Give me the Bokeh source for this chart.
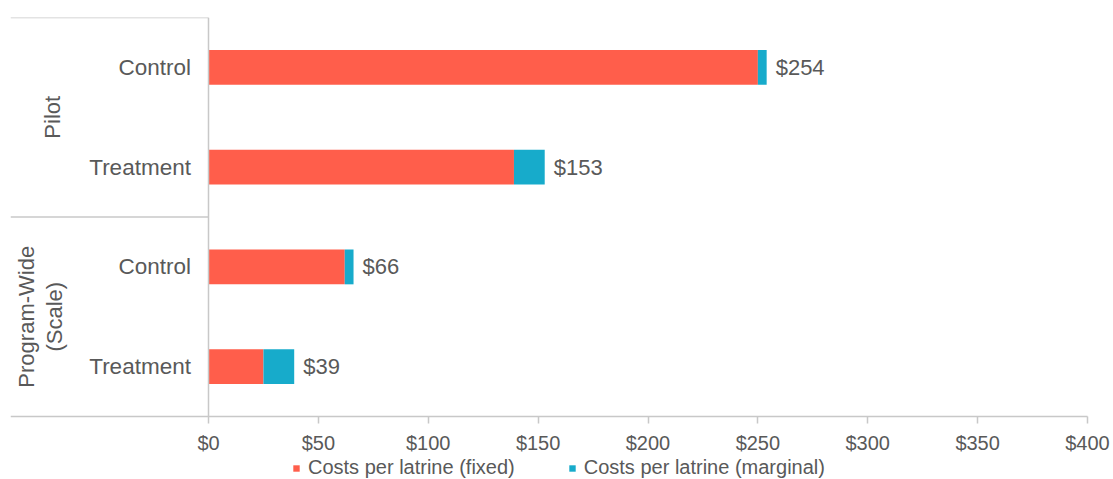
from bokeh.plotting import figure
from bokeh.models import Range1d, FixedTicker, NumeralTickFormatter, Legend, LegendItem, ColumnDataSource
from bokeh.core.properties import value
from bokeh.embed import file_html
from bokeh.resources import INLINE

groups = ["Pilot", "Pilot", "Program-Wide\n(Scale)", "Program-Wide\n(Scale)"]
arms = ["Control", "Treatment", "Control", "Treatment"]
fixed = [250, 139, 62, 25]
marginal = [4, 14, 4, 14]
totals = [254, 153, 66, 39]
x_ticks = [0, 50, 100, 150, 200, 250, 300, 350, 400]
series_names = ["Costs per latrine (fixed)", "Costs per latrine (marginal)"]

RED = "#FF5E4B"
BLUE = "#17ABCB"
GREY_TXT = "#595959"
GREY_LINE = "#C8C8C8"
FONT = "Liberation Sans"

n = len(arms)
ypos = [n - 1 - i for i in range(n)]
px_per_unit = 879 / 400
left_x = -198 / px_per_unit
right_x = 400 + 26 / px_per_unit
y_bottom = -0.5
y_floor = y_bottom - 63 / 99.75  # room under the axis for tick labels and legend

p = figure(width=1113, height=479, output_backend="svg", toolbar_location=None,
           x_range=Range1d(left_x, right_x), y_range=Range1d(y_floor, n - 0.5),
           min_border_left=10, min_border_right=0, min_border_top=17, min_border_bottom=0)
p.outline_line_color = None
p.grid.visible = False
p.yaxis.visible = False

src = ColumnDataSource(dict(y=ypos, fixed=fixed, marginal=marginal, total=totals,
                            start=[0] * n, arm=arms,
                            lab=["$%d" % t for t in totals]))

r1 = p.hbar(y="y", left="start", right="fixed", height=0.35, source=src,
            fill_color=RED, line_color=None)
r2 = p.hbar(y="y", left="fixed", right="total", height=0.35, source=src,
            fill_color=BLUE, line_color=None)

p.text(x="total", y="y", text="lab", source=src, x_offset=9, text_align="left",
       text_baseline="middle", text_font=value(FONT), text_font_size="22px",
       text_color=GREY_TXT)

p.text(x=[-8] * n, y=ypos, text=arms, text_align="right", text_baseline="middle",
       text_font=value(FONT), text_font_size="22.5px", text_color=GREY_TXT)

# group labels
group_names = []
group_centers = []
for g, yv in zip(groups, ypos):
    if g not in group_names:
        group_names.append(g)
        group_centers.append([])
    group_centers[group_names.index(g)].append(yv)
gy = [sum(c) / len(c) for c in group_centers]
p.text(x=[-71, -76.5], y=gy, text=group_names, angle=1.5708,
       text_align="center", text_baseline="middle", text_font=value(FONT),
       text_font_size="22px", text_color=GREY_TXT, text_line_height=1.1)

# group separators
bounds = [max(c) + 0.5 for c in group_centers]
p.segment(x0=[left_x] * len(bounds), x1=[0] * len(bounds), y0=bounds, y1=bounds,
          line_color=GREY_LINE, line_width=1.5)
# value axis line (vertical at $0)
p.segment(x0=[0], x1=[0], y0=[y_bottom], y1=[n - 0.5], line_color=GREY_LINE, line_width=1.5)

ax = p.xaxis[0]
ax.fixed_location = y_bottom
ax.bounds = (left_x, 400)
ax.ticker = FixedTicker(ticks=x_ticks)
ax.formatter = NumeralTickFormatter(format="$0")
ax.axis_line_color = GREY_LINE
ax.axis_line_width = 1.5
ax.major_tick_line_color = GREY_LINE
ax.major_tick_line_width = 1.5
ax.major_tick_in = 0
ax.major_tick_out = 7
ax.minor_tick_line_color = None
ax.major_label_text_font = FONT
ax.major_label_text_font_size = "20px"
ax.major_label_text_color = GREY_TXT
ax.major_label_standoff = 8

legend = Legend(items=[LegendItem(label=series_names[0], renderers=[r1]),
                       LegendItem(label=series_names[1], renderers=[r2])],
                orientation="horizontal", location=(282, 0),
                glyph_width=8, glyph_height=8, label_text_font=FONT,
                label_text_font_size="20px", label_text_color=GREY_TXT,
                label_height=20,
                border_line_color=None, background_fill_alpha=0,
                spacing=53, padding=0, margin=0, label_standoff=8)
p.add_layout(legend, "center")

open("out.html", "w").write(file_html(p, INLINE))
